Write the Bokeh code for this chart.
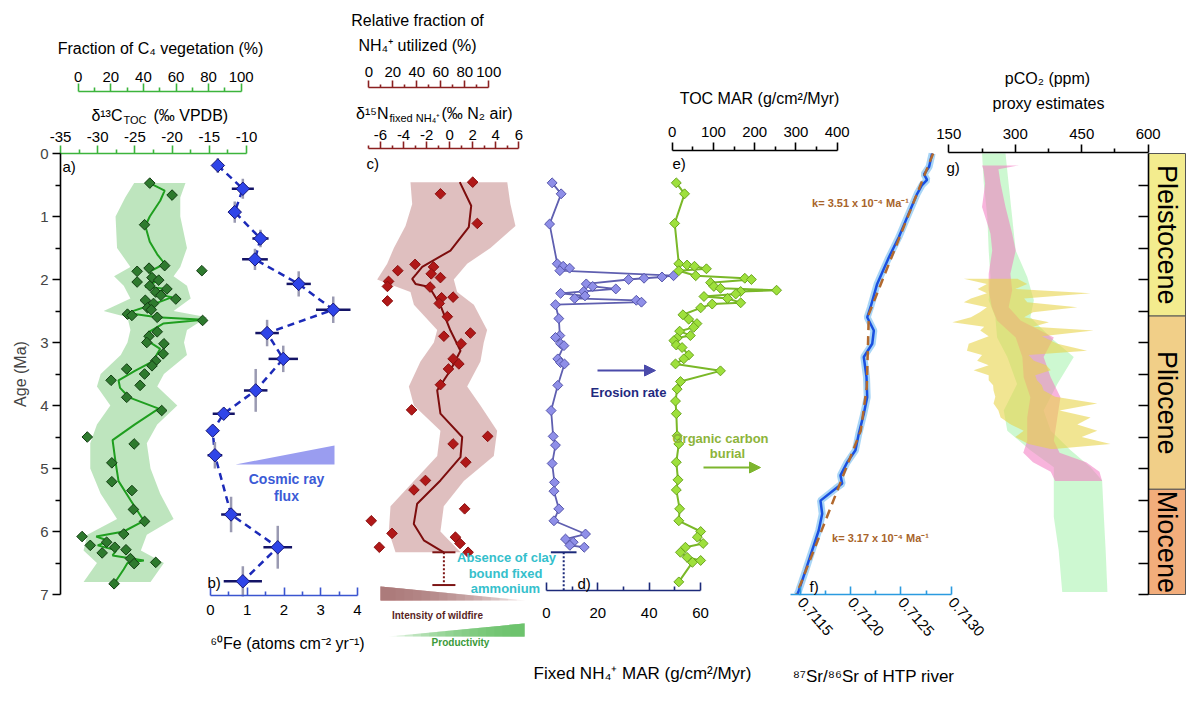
import numpy as np
from math import pi
from bokeh.plotting import figure
from bokeh.models import (Range1d, LinearAxis, FixedTicker, Label, Arrow,
                          NormalHead, PrintfTickFormatter)
from bokeh.core.properties import value
from bokeh.embed import file_html
from bokeh.resources import INLINE

FONT = "Liberation Sans"

# ---------------- a) d13C of TOC ----------------
a_age = [0.47, 0.66, 1.13, 1.78, 1.82, 1.86, 1.87, 1.97, 2.01, 2.04, 2.10, 2.15, 2.20, 2.25,
         2.31, 2.33, 2.38, 2.45, 2.48, 2.55, 2.57, 2.60, 2.65, 2.83, 2.90, 3.00, 3.02, 3.18,
         3.29, 3.37, 3.42, 3.50, 3.60, 3.68, 3.87, 4.08, 4.50, 4.61, 4.91, 5.21, 5.35, 5.65,
         5.84, 6.04, 6.08, 6.17, 6.22, 6.25, 6.29, 6.34, 6.43, 6.49, 6.51, 6.83]
a_d13c = [-23.0, -20.0, -23.7, -21.0, -23.1, -16.0, -24.7, -22.7, -21.8, -24.7, -23.0, -20.7,
          -22.2, -21.5, -19.5, -23.6, -22.5, -23.3, -22.8, -26.0, -25.4, -22.0, -15.9, -22.0,
          -23.1, -23.4, -21.1, -21.2, -22.2, -22.7, -26.1, -23.7, -28.2, -24.3, -26.1, -21.4,
          -31.4, -25.1, -28.1, -28.1, -25.4, -25.2, -23.7, -26.5, -32.1, -28.8, -31.0, -27.7,
          -26.2, -29.4, -25.6, -22.2, -25.1, -27.8]
a_fit_age = [0.47, 0.59, 0.75, 1.0, 1.15, 1.4, 1.6, 1.75, 1.88, 2.02, 2.12, 2.15, 2.22, 2.28,
             2.38, 2.53, 2.60, 2.64, 2.70, 2.83, 2.95, 3.1, 3.3, 3.45, 3.6, 3.72, 3.87, 4.05,
             4.3, 4.55, 4.9, 5.2, 5.5, 5.83, 6.0, 6.08, 6.15, 6.22, 6.3, 6.38, 6.46, 6.5, 6.6, 6.83]
a_fit = [-23.0, -21.0, -21.6, -23.0, -23.6, -23.0, -22.0, -21.0, -23.1, -22.0, -23.6, -20.5,
         -22.7, -20.0, -22.2, -26.0, -22.0, -15.8, -21.2, -23.1, -23.6, -21.6, -22.6, -25.0,
         -27.2, -27.0, -25.8, -21.8, -25.0, -28.0, -27.6, -27.2, -25.6, -23.8, -26.5, -30.2,
         -28.5, -30.0, -27.5, -28.0, -23.8, -26.0, -26.5, -27.8]
a_band_age = [0.47, 0.7, 1.0, 1.5, 1.8, 1.95, 2.1, 2.3, 2.5, 2.6, 2.8, 3.0, 3.2, 3.5, 3.7,
              4.0, 4.3, 4.6, 5.0, 5.4, 5.8, 6.05, 6.3, 6.5, 6.8]
a_band_lo = [-25.1, -26.3, -27.6, -27.4, -25.6, -27.8, -26.5, -25.6, -29.2, -26.0, -25.6, -26.0,
             -26.9, -29.6, -30.1, -28.3, -30.1, -31.0, -31.0, -29.6, -27.4, -31.4, -31.9, -30.1, -31.9]
a_band_hi = [-18.2, -18.9, -18.9, -18.0, -18.9, -19.8, -18.0, -17.5, -19.8, -15.3, -18.0, -18.4,
             -18.0, -21.1, -22.0, -19.3, -22.0, -23.4, -22.9, -21.6, -19.8, -23.4, -24.2, -21.1, -22.9]

# ---------------- b) 60Fe flux ----------------
b_age = [0.19, 0.56, 0.93, 1.35, 1.68, 2.07, 2.48, 2.85, 3.26, 3.76, 4.13, 4.40, 4.79, 5.73, 6.25, 6.79]
b_fe = [0.20, 0.88, 0.66, 1.36, 1.21, 2.40, 3.34, 1.54, 1.98, 1.23, 0.36, 0.06, 0.12, 0.56, 1.83, 0.88]
b_fe_err = [0.0, 0.30, 0.0, 0.22, 0.35, 0.33, 0.47, 0.32, 0.40, 0.32, 0.30, 0.15, 0.20, 0.27, 0.39, 0.52]
b_age_err = [0.12, 0.16, 0.17, 0.14, 0.17, 0.20, 0.21, 0.21, 0.21, 0.34, 0.05, 0.05, 0.21, 0.28, 0.34, 0.24]

# ---------------- c) d15N of fixed NH4+ ----------------
c_age = [0.455, 0.64, 1.11, 1.76, 1.80, 1.86, 1.91, 1.97, 2.03, 2.11, 2.12, 2.28, 2.29, 2.34,
         2.38, 2.59, 2.85, 2.90, 3.02, 3.26, 3.34, 3.42, 3.67, 4.07, 4.49, 4.61, 4.90, 5.19,
         5.34, 5.64, 5.83, 6.03, 6.09, 6.19, 6.25, 6.33]
c_d15n = [2.0, -0.8, 2.4, -3.0, -1.4, -4.5, -1.6, -0.8, -5.3, -5.4, -1.7, 0.3, -0.7, -5.4,
          -0.9, -0.2, 1.8, -0.5, 1.0, 0.3, 0.8, -0.1, -0.8, -3.3, 3.3, 0.3, 1.4, -2.1,
          -3.1, 1.3, -6.8, -5.0, 0.5, 0.9, -6.1, 1.6]
c_fit_age = [0.455, 0.83, 1.17, 1.54, 1.80, 1.91, 1.99, 2.07, 2.11, 2.17, 2.41, 2.81, 3.13,
             3.44, 3.76, 4.13, 4.50, 4.82, 5.19, 5.56, 5.88, 6.14, 6.33]
c_fit = [0.88, 1.87, 1.66, 0.07, -2.38, -2.88, -3.25, -2.96, -1.95, -1.60, -0.80, 0.07, 0.94,
         0.07, -1.08, -0.80, 1.09, 0.94, -0.80, -2.82, -3.11, -2.24, -0.51]
c_band_age = [0.455, 0.8, 1.15, 1.5, 1.75, 2.0, 2.2, 2.4, 2.8, 3.0, 3.3, 3.7, 4.0, 4.4, 4.8,
              5.2, 5.6, 6.0, 6.33]
c_band_lo = [-3.4, -3.25, -3.83, -4.84, -5.42, -6.29, -3.4, -3.1, -1.08, -1.37, -2.53, -3.54,
             -3.1, -0.8, -1.08, -3.1, -5.13, -5.28, -4.7]
c_band_hi = [5.0, 5.27, 5.71, 3.54, 1.52, 0.36, 0.65, 2.1, 3.25, 2.96, 2.67, 1.52, 2.67, 4.12,
             3.83, 1.23, -0.51, -0.8, 0.94]
# interval without clay-bound fixed ammonium
absence_age = [6.33, 6.85]
absence_c = -0.5
absence_d = 6.7

# ---------------- d) fixed NH4+ MAR ----------------
d_age = [0.466, 0.64, 1.12, 1.75, 1.79, 1.82, 1.86, 1.94, 1.96, 1.98, 2.00, 2.07, 2.11, 2.15,
         2.19, 2.22, 2.26, 2.30, 2.33, 2.36, 2.40, 2.62, 2.89, 2.92, 3.02, 3.05, 3.26, 3.32,
         3.34, 3.68, 4.08, 4.49, 4.63, 4.92, 5.22, 5.36, 5.64, 5.83, 6.04, 6.12, 6.17, 6.22, 6.25]
d_mar = [2.2, 5.7, 1.2, 4.2, 6.5, 9.0, 5.2, 49.5, 45.0, 38.0, 32.0, 15.5, 18.0, 27.0,
         14.5, 5.5, 15.0, 11.0, 35.0, 37.0, 3.5, 4.8, 5.2, 3.5, 5.5, 6.8, 4.4, 5.5,
         7.0, 4.4, 1.8, 2.6, 3.5, 2.2, 3.1, 2.9, 4.8, 2.9, 15.2, 7.4, 10.4, 9.1, 14.7]

# ---------------- e) TOC MAR ----------------
e_age = [0.466, 0.64, 1.11, 1.75, 1.77, 1.79, 1.83, 1.86, 1.94, 1.98, 2.00, 2.05, 2.11, 2.14,
         2.17, 2.19, 2.23, 2.27, 2.30, 2.37, 2.39, 2.45, 2.56, 2.63, 2.70, 2.76, 2.82, 2.89,
         2.93, 2.97, 3.04, 3.08, 3.20, 3.26, 3.34, 3.45, 3.62, 3.74, 3.93, 4.13, 4.48, 4.61,
         4.90, 5.18, 5.34, 5.64, 5.83, 6.00, 6.09, 6.19, 6.25, 6.33, 6.41, 6.46, 6.49, 6.80]
e_toc = [10, 30, 6, 16, 36, 54, 83, 16, 57, 176, 192, 93, 101, 117,
         253, 166, 154, 77, 134, 166, 97, 69, 26, 40, 60, 52, 18, 44,
         12, 4, 10, 24, 40, 28, 8, 117, 20, 12, 8, 10, 12, 16,
         10, 14, 10, 18, 16, 69, 61, 75, 32, 20, 36, 69, 49, 16]

# ---------------- f) 87Sr/86Sr of HTP rivers ----------------
f_age = [0.0, 0.21, 0.33, 0.42, 0.50, 0.64, 1.01, 1.33, 1.65, 2.07, 2.44, 2.60, 2.81, 3.02,
         3.23, 3.55, 3.87, 4.13, 4.45, 4.71, 4.90, 5.11, 5.24, 5.32, 5.51, 5.72, 5.98, 6.30,
         6.62, 6.94, 7.0]
f_sr = [0.71281, 0.71278, 0.71273, 0.71276, 0.71271, 0.712661, 0.712562, 0.712478, 0.712379,
        0.712263, 0.712197, 0.712164, 0.712230, 0.712214, 0.712130, 0.712157, 0.712164,
        0.712130, 0.712080, 0.712047, 0.711965, 0.711898, 0.711915, 0.711848, 0.711699,
        0.711716, 0.711682, 0.711616, 0.711550, 0.711483, 0.711467]
f_fit_age = [0.0, 2.55, 3.7, 4.4, 7.0]
f_fit_sr = [0.71282, 0.71218, 0.71216, 0.71210, 0.71146]

# ---------------- g) pCO2 proxy estimates ----------------
g_green_age = [0.0, 0.48, 1.01, 1.54, 1.96, 2.33, 2.60, 2.92, 3.23, 3.66, 4.08, 4.40, 4.71,
               4.98, 5.19, 5.77, 6.30, 6.96]
g_green_lo = [225, 229, 237, 240, 244, 240, 255, 259, 282, 304, 274, 282, 334, 387, 387, 387, 398, 406]
g_green_hi = [278, 285, 293, 301, 327, 342, 334, 380, 432, 395, 364, 380, 425, 470, 496, 500, 504, 508]
g_pink_age = [0.19, 0.25, 0.48, 0.85, 1.27, 1.54, 1.91, 2.17, 2.44, 2.65, 2.92, 3.23, 3.55,
              3.87, 4.19, 4.56, 4.75, 4.90, 5.05, 5.20]
g_pink_lo = [225, 228, 232, 225, 244, 248, 240, 240, 247, 259, 301, 316, 319, 334, 327, 327,
             318, 340, 380, 390]
g_pink_hi = [308, 262, 267, 278, 293, 301, 289, 293, 285, 312, 387, 364, 380, 402, 395, 387,
             400, 460, 490, 496]
g_yel_age = [1.99, 2.07, 2.15, 2.22, 2.30, 2.36, 2.44, 2.52, 2.60, 2.68, 2.75, 2.81, 2.90,
             3.02, 3.13, 3.20, 3.29, 3.36, 3.44, 3.52, 3.60, 3.68, 3.76, 3.86, 3.97, 4.08,
             4.19, 4.30, 4.40, 4.50, 4.61, 4.69]
g_yel_lo = [184, 236, 215, 236, 200, 184, 236, 220, 200, 158, 230, 221, 240, 195, 191, 225,
            214, 240, 206, 240, 240, 250, 251, 255, 251, 262, 267, 290, 319, 300, 330, 380]
g_yel_hi = [305, 327, 300, 470, 320, 327, 440, 340, 320, 376, 340, 477, 360, 395, 462, 330,
            342, 370, 380, 345, 349, 360, 364, 390, 485, 400, 470, 440, 485, 450, 515, 387]

# ---------------- epochs ----------------
epoch_names = ["Pleistocene", "Pliocene", "Miocene"]
epoch_top = [0.0, 2.58, 5.33]
epoch_bottom = [2.58, 5.33, 7.0]
epoch_colors = ["#f3ec8e", "#f1cf88", "#f2ad7b"]

# ====================== layout ======================
W, H = 1186, 700
RX0, RX1 = 0, 1186       # layout px at frame edges
RY0, RY1 = 0, 700


def age_at(ry):
    return (ry - 153) / 63.0


def xr(p1, v1, p2, v2):
    s = (v2 - v1) / (p2 - p1)
    return Range1d(start=v1 + (RX0 - p1) * s, end=v1 + (RX1 - p1) * s)


p = figure(width=W, height=H, x_range=Range1d(RX0, RX1),
           y_range=Range1d(age_at(RY1), age_at(RY0)),
           x_axis_type=None, y_axis_type=None, output_backend="svg",
           toolbar_location=None, min_border=0, outline_line_color=None,
           background_fill_color="white", border_fill_color="white")
p.extra_y_ranges = {"py": Range1d(RY1, RY0)}
p.extra_x_ranges = {
    "a": xr(60, -35, 246, -10), "c4": xr(77.7, 0, 240.7, 100),
    "b": xr(210, 0, 357, 4),
    "c": xr(380, -6, 518.3, 6), "nh": xr(368.3, 0, 488.3, 100),
    "d": xr(546, 0, 700, 60), "e": xr(671.7, 0, 836.7, 400),
    "f": xr(800, 0.7115, 950.7, 0.7130), "g": xr(948.3, 150, 1147.7, 600),
    "ep": xr(1148, 0, 1185, 1),
}


def xaxis(rng, side, loc, bounds, ticks, minor, color, fmt="%d", standoff=3,
          tin=0, tout=8, orient="horizontal"):
    ax = LinearAxis(x_range_name=rng, fixed_location=loc, bounds=bounds,
                    ticker=FixedTicker(ticks=ticks, minor_ticks=minor),
                    formatter=PrintfTickFormatter(format=fmt),
                    axis_line_color=color, axis_line_width=1.6,
                    major_tick_line_color=color, major_tick_line_width=1.6,
                    minor_tick_line_color=color, minor_tick_line_width=1.6,
                    major_tick_in=tin, major_tick_out=tout,
                    minor_tick_in=tin // 2, minor_tick_out=tout // 2,
                    major_label_standoff=standoff, major_label_orientation=orient,
                    major_label_text_font=FONT, major_label_text_font_size="15px",
                    major_label_text_color="black")
    p.add_layout(ax, side)
    return ax


def rng(a, b, s):
    return list(np.round(np.arange(a, b + s / 2, s), 6))


# top axes
xaxis("a", "above", age_at(153), (-35, -10), rng(-35, -10, 5), rng(-32.5, -12.5, 5), "#3cb43c", standoff=4)
xaxis("c4", "above", age_at(90.7), (0, 100), rng(0, 100, 20), rng(10, 90, 20), "#3cb43c", standoff=1)
xaxis("c", "above", age_at(148.3), (-7, 6), rng(-6, 6, 2), rng(-7, 5, 2), "#8b2020", standoff=2, tout=7)
xaxis("nh", "above", age_at(86.7), (0, 100), rng(0, 100, 20), rng(10, 90, 20), "#8b2020", standoff=3, tout=7)
xaxis("e", "above", age_at(150), (0, 400), rng(0, 400, 100), rng(50, 350, 100), "black", standoff=6)
xaxis("g", "above", age_at(152.3), (150, 600), rng(150, 600, 150), rng(225, 525, 150), "black", standoff=6)
# bottom axes
xaxis("b", "below", age_at(595), (0, 4), rng(0, 4, 1), rng(0.5, 3.5, 1), "#3a55d0", standoff=9, tin=8, tout=0)
xaxis("d", "below", age_at(590), (0, 60), rng(0, 60, 20), rng(10, 50, 20), "#1c2a7a", standoff=17, tin=8, tout=0)
xaxis("f", "below", age_at(594.3), (0.7114, 0.7130), rng(0.7115, 0.7130, 0.0005),
      rng(0.71175, 0.71275, 0.0005), "#2b9be0", fmt="%.4f", standoff=5, tin=8, tout=0, orient=-0.85)

# age axis
age_ax = LinearAxis(x_range_name="a", fixed_location=-35, bounds=(0, 7),
                    ticker=FixedTicker(ticks=list(range(8)), minor_ticks=rng(0.5, 6.5, 1)),
                    formatter=PrintfTickFormatter(format="%d"),
                    axis_line_color="black", axis_line_width=1.6,
                    major_tick_line_color="black", major_tick_line_width=1.6,
                    minor_tick_line_color="black", minor_tick_line_width=1.6,
                    major_tick_in=0, major_tick_out=8, minor_tick_in=0, minor_tick_out=5,
                    major_label_standoff=4, major_label_text_font=FONT,
                    major_label_text_font_size="15px", axis_label="Age (Ma)",
                    axis_label_text_font=FONT, axis_label_text_font_size="16px",
                    axis_label_text_font_style="normal", axis_label_standoff=8)
p.add_layout(age_ax, "left")

# ---------------- panel a ----------------
p.harea(x1=a_band_lo, x2=a_band_hi, y=a_band_age, x_range_name="a",
        fill_color="#a8dca8", fill_alpha=0.75)
p.line(a_fit, a_fit_age, x_range_name="a", line_color="#1f9e1f", line_width=2)
p.scatter(a_d13c, a_age, x_range_name="a", marker="square", angle=pi / 4, size=7.5,
          fill_color="#2e7a2e", line_color="#123d12", line_width=1)

# ---------------- panel b ----------------
bf = np.array(b_fe)
ba = np.array(b_age)
p.line(b_fe, b_age, x_range_name="b", line_color="#1c2ab8", line_width=2.5, line_dash="7 5")
p.segment(x0=bf, y0=ba - np.array(b_age_err), x1=bf, y1=ba + np.array(b_age_err),
          x_range_name="b", line_color="#9a9ab2", line_width=2.5)
p.segment(x0=bf - np.array(b_fe_err), y0=ba, x1=bf + np.array(b_fe_err), y1=ba,
          x_range_name="b", line_color="#141466", line_width=2.5)
p.scatter(b_fe, b_age, x_range_name="b", marker="square", angle=pi / 4, size=9.5,
          fill_color="#2f45e8", line_color="#151575", line_width=1)

# ---------------- panel c ----------------
p.harea(x1=c_band_lo, x2=c_band_hi, y=c_band_age, x_range_name="c",
        fill_color="#d4a9a9", fill_alpha=0.75)
p.line(c_fit, c_fit_age, x_range_name="c", line_color="#7d0d0d", line_width=2)
p.scatter(c_d15n, c_age, x_range_name="c", marker="square", angle=pi / 4, size=7.5,
          fill_color="#b01818", line_color="#8a0f0f", line_width=1)
p.segment(x0=[absence_c], y0=[absence_age[0]], x1=[absence_c], y1=[absence_age[1]],
          x_range_name="c", line_color="#7d1515", line_width=2, line_dash="2 2")
p.segment(x0=[absence_c - 1, absence_c - 1], y0=absence_age, x1=[absence_c + 1, absence_c + 1],
          y1=absence_age, x_range_name="c", line_color="#7d1515", line_width=2)

# ---------------- panel d ----------------
p.line(d_mar, d_age, x_range_name="d", line_color="#5f5fb0", line_width=1.8)
p.scatter(d_mar, d_age, x_range_name="d", marker="square", angle=pi / 4, size=7,
          fill_color="#8f8fe8", line_color="#5555aa", line_width=1)
p.segment(x0=[absence_d], y0=[absence_age[0]], x1=[absence_d], y1=[age_at(590)],
          x_range_name="d", line_color="#1c2a7a", line_width=2, line_dash="2 2")
p.segment(x0=[absence_d - 5], y0=[absence_age[0]], x1=[absence_d + 5], y1=[absence_age[0]],
          x_range_name="d", line_color="#1c2a7a", line_width=2)

# ---------------- panel e ----------------
p.line(e_toc, e_age, x_range_name="e", line_color="#7ab828", line_width=2)
p.scatter(e_toc, e_age, x_range_name="e", marker="square", angle=pi / 4, size=7,
          fill_color="#9ee03c", line_color="#6aa41e", line_width=1)

# ---------------- panel f ----------------
p.line(f_sr, f_age, x_range_name="f", line_color="#9fd0f5", line_width=7, line_alpha=0.9)
p.line(f_sr, f_age, x_range_name="f", line_color="#1a50e0", line_width=2.5)
p.line(f_fit_sr, f_fit_age, x_range_name="f", line_color="#b2692e", line_width=2.5, line_dash="9 6")

# ---------------- panel g ----------------
p.harea(x1=g_green_lo, x2=g_green_hi, y=g_green_age, x_range_name="g",
        fill_color="#a4f2ac", fill_alpha=0.55)
p.harea(x1=g_pink_lo, x2=g_pink_hi, y=g_pink_age, x_range_name="g",
        fill_color="#f277c0", fill_alpha=0.55)
p.harea(x1=g_yel_lo, x2=g_yel_hi, y=g_yel_age, x_range_name="g",
        fill_color="#e8d44a", fill_alpha=0.6)

# ---------------- epochs ----------------
p.quad(left=0, right=1, top=epoch_top, bottom=epoch_bottom, x_range_name="ep",
       fill_color=epoch_colors, line_color="#555555", line_width=1)
ep_mid = (np.array(epoch_top) + np.array(epoch_bottom)) / 2
p.text(x=[0.5] * 3, y=ep_mid, text=epoch_names, x_range_name="ep", angle=-pi / 2,
       text_align="center", text_baseline="middle", text_font=value(FONT),
       text_font_size="27px", text_color="black")
ep_ax = LinearAxis(x_range_name="ep", fixed_location=0, bounds=(0, 7),
                   ticker=FixedTicker(ticks=[], minor_ticks=rng(0.5, 7.0, 0.5)),
                   axis_line_color="black", axis_line_width=1.6,
                   minor_tick_line_color="black", minor_tick_line_width=1.6,
                   minor_tick_in=0, minor_tick_out=10, major_tick_in=0, major_tick_out=0)
p.add_layout(ep_ax, "left")


# ---------------- text & decorations (layout px) ----------------
def lab(text, x, y, size=16, color="black", bold=False, align="center", baseline="middle", angle=0):
    p.add_layout(Label(x=x, y=y, y_range_name="py", text=text, text_font=FONT,
                       text_font_size=f"{size}px", text_color=color,
                       text_font_style="bold" if bold else "normal",
                       text_align=align, text_baseline=baseline, angle=angle))


lab("Fraction of C\u2084 vegetation (%)", 160, 48)
lab("\u03b4\u00b9\u00b3C", 122, 115, align="right", baseline="alphabetic")
lab("TOC", 123, 119, size=11, align="left", baseline="alphabetic")
lab("(\u2030 VPDB)", 153, 115, align="left", baseline="alphabetic")
lab("Relative fraction of", 417, 20)
lab("NH\u2084\u207a utilized (%)", 417, 45)
lab("\u03b4\u00b9\u2075N", 388, 113, align="right", baseline="alphabetic")
lab("fixed NH\u2084\u207a", 389, 117, size=11, align="left", baseline="alphabetic")
lab("(\u2030 N\u2082 air)", 441, 113, align="left", baseline="alphabetic")
lab("TOC MAR (g/cm\u00b2/Myr)", 759, 98)
lab("pCO\u2082 (ppm)", 1047, 78)
lab("proxy estimates", 1048, 103)
lab("\u2076\u2070Fe (atoms cm\u207b\u00b2 yr\u207b\u00b9)", 287, 643)
lab("Fixed NH\u2084\u207a MAR (g/cm\u00b2/Myr)", 642, 673, size=17)
lab("\u2078\u2077Sr/\u2078\u2076Sr of HTP river", 873, 676, size=17)

for t, x, y in [("a)", 62, 166), ("b)", 207, 582), ("c)", 366, 163), ("d)", 577, 583),
                ("e)", 672, 163), ("f)", 809, 586), ("g)", 946, 167)]:
    lab(t, x, y, size=15, align="left")

lab("Cosmic ray", 286, 478, size=14, color="#3b5bd6", bold=True)
lab("flux", 286, 495, size=14, color="#3b5bd6", bold=True)
lab("Erosion rate", 628, 392, size=13, color="#1f2a80", bold=True)
lab("Organic carbon", 720, 438, size=13, color="#8db43a", bold=True)
lab("burial", 727, 453, size=13, color="#8db43a", bold=True)
lab("Absence of clay", 506, 557, size=13, color="#35c0cc", bold=True)
lab("bound fixed", 505, 573, size=13, color="#35c0cc", bold=True)
lab("ammonium", 505, 588, size=13, color="#35c0cc", bold=True)
lab("Intensity of wildfire", 437, 615, size=10, color="#5a1f1f", bold=True)
lab("Productivity", 460, 642, size=10, color="#3a9a3a", bold=True)
lab("k= 3.51 x 10\u207b\u2074 Ma\u207b\u00b9", 860, 202, size=11, color="#a8642a", bold=True)
lab("k= 3.17 x 10\u207b\u2074 Ma\u207b\u00b9", 880, 537, size=11, color="#a8642a", bold=True)

# decorative wedges (layout px); the two lower ones fade like gradients (stacked layers)
p.patch([235, 334, 334], [464, 445, 464], y_range_name="py", fill_color="#9a9df0",
        line_color=None)
N = 16
w_ends = np.linspace(525, 395, N)
p.patches([[380, xe, xe, 380] for xe in w_ends],
          [[586, 586 + (xe - 380) / 145 * 14, 600, 600] for xe in w_ends], y_range_name="py",
          fill_color="#a86a6a", fill_alpha=0.12, line_color=None)
p_starts = np.linspace(388, 510, N)
p.patches([[xs, 524, 524, xs] for xs in p_starts],
          [[636 - (xs - 388) / 136 * 13, 623, 636, 636] for xs in p_starts], y_range_name="py",
          fill_color="#5cbf5c", fill_alpha=0.12, line_color=None)
p.add_layout(Arrow(x_start=597, y_start=370, x_end=655, y_end=370, y_range_name="py",
                   line_color="#4a4aaa", line_width=2,
                   end=NormalHead(size=11, fill_color="#4a4aaa", line_color="#4a4aaa")))
p.add_layout(Arrow(x_start=703, y_start=467, x_end=760, y_end=467, y_range_name="py",
                   line_color="#7db52e", line_width=2,
                   end=NormalHead(size=11, fill_color="#7db52e", line_color="#7db52e")))

open("out.html", "w").write(file_html(p, INLINE))
